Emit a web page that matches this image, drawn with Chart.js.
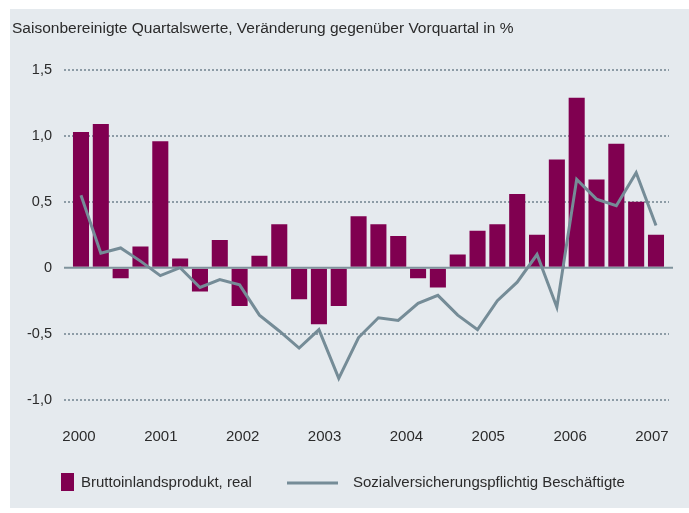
<!DOCTYPE html>
<html lang="de">
<head>
<meta charset="utf-8">
<title>BIP und Beschäftigung</title>
<script src="https://cdn.jsdelivr.net/npm/chart.js@4.4.1/dist/chart.umd.min.js"></script>
<style>
	html, body { margin: 0; padding: 0; background: #fff; }
	#wrap { width: 689px; height: 513px; }
</style>
</head>
<body>
<div id="wrap"><canvas id="chart" width="689" height="513"></canvas></div>
<script>
	'use strict';

	// quarters 2000 Q1 .. 2007 Q2
	var quarters = [
		'2000 Q1', '2000 Q2', '2000 Q3', '2000 Q4',
		'2001 Q1', '2001 Q2', '2001 Q3', '2001 Q4',
		'2002 Q1', '2002 Q2', '2002 Q3', '2002 Q4',
		'2003 Q1', '2003 Q2', '2003 Q3', '2003 Q4',
		'2004 Q1', '2004 Q2', '2004 Q3', '2004 Q4',
		'2005 Q1', '2005 Q2', '2005 Q3', '2005 Q4',
		'2006 Q1', '2006 Q2', '2006 Q3', '2006 Q4',
		'2007 Q1', '2007 Q2'
	];

	var bipReal = [
		1.03, 1.09, -0.08, 0.16,
		0.96, 0.07, -0.18, 0.21,
		-0.29, 0.09, 0.33, -0.24,
		-0.43, -0.29, 0.39, 0.33,
		0.24, -0.08, -0.15, 0.10,
		0.28, 0.33, 0.56, 0.25,
		0.82, 1.29, 0.67, 0.94,
		0.50, 0.25
	];

	var beschaeftigte = [
		0.55, 0.11, 0.15, 0.05,
		-0.06, 0.00, -0.15, -0.09,
		-0.13, -0.36, -0.48, -0.61,
		-0.47, -0.84, -0.53, -0.38,
		-0.40, -0.27, -0.21, -0.36,
		-0.47, -0.25, -0.11, 0.10,
		-0.30, 0.67, 0.52, 0.47,
		0.72, 0.32
	];

	var yearLabels = ['2000', '2001', '2002', '2003', '2004', '2005', '2006', '2007'];
	var yTicks = [1.5, 1.0, 0.5, 0, -0.5, -1.0];

	var seriesNames = ['Bruttoinlandsprodukt, real', 'Sozialversicherungspflichtig Beschäftigte'];
	var title = 'Saisonbereinigte Quartalswerte, Veränderung gegenüber Vorquartal in %';

	var BAR = '#800050';
	var LINE = '#758c97';
	var TEXT = '#2b2b2b';

	function points(values) {
		return values.map(function (v, i) { return { x: i, y: v }; });
	}

	// the year labels in the original sit a little wider apart than the quarters
	var yearStep = 4.128;
	var yearOffset = -0.1;

	Chart.defaults.font.family = "'Liberation Sans', Arial, Helvetica, sans-serif";
	Chart.defaults.font.size = 15;
	Chart.defaults.color = TEXT;

	var panel = {
		id: 'panel',
		beforeDraw: function (chart) {
			var ctx = chart.ctx;
			ctx.save();
			ctx.fillStyle = '#ffffff';
			ctx.fillRect(0, 0, chart.width, chart.height);
			ctx.fillStyle = '#e5eaee';
			ctx.fillRect(10, 9, chart.width - 10, 499);
			ctx.restore();
		}
	};

	var zeroLine = {
		id: 'zeroLine',
		afterDatasetDraw: function (chart, args) {
			if (args.index !== 0) return;
			var y = chart.scales.y.getPixelForValue(0);
			var area = chart.chartArea;
			var ctx = chart.ctx;
			ctx.save();
			ctx.strokeStyle = '#7f939c';
			ctx.lineWidth = 2;
			ctx.beginPath();
			ctx.moveTo(area.left, y);
			ctx.lineTo(area.right + 4, y);
			ctx.stroke();
			ctx.restore();
		}
	};

	var legendRow = {
		id: 'legendRow',
		afterDraw: function (chart) {
			var ctx = chart.ctx;
			var ds = chart.data.datasets;
			var y = 482.5;
			ctx.save();
			ctx.font = Chart.helpers.toFont(Chart.defaults.font).string;
			ctx.textBaseline = 'middle';
			ctx.textAlign = 'left';

			ctx.fillStyle = ds[0].backgroundColor;
			ctx.fillRect(61, 473, 13, 18);
			ctx.fillStyle = TEXT;
			ctx.fillText(ds[0].label, 81, y);

			ctx.strokeStyle = ds[1].borderColor;
			ctx.lineWidth = 3;
			ctx.beginPath();
			ctx.moveTo(287, 483);
			ctx.lineTo(338, 483);
			ctx.stroke();
			ctx.fillText(ds[1].label, 353, y);
			ctx.restore();
		}
	};

	new Chart(document.getElementById('chart'), {
		type: 'bar',
		data: {
			labels: quarters,
			datasets: [{
				type: 'bar',
				label: seriesNames[0],
				data: points(bipReal),
				backgroundColor: BAR,
				categoryPercentage: 1,
				barPercentage: 0.81,
				order: 2
			}, {
				type: 'line',
				label: seriesNames[1],
				data: points(beschaeftigte),
				borderColor: LINE,
				borderWidth: 3,
				pointRadius: 0,
				tension: 0,
				order: 1
			}]
		},
		options: {
			responsive: false,
			animation: false,
			layout: { padding: { left: 12, right: 20, top: 0, bottom: 63.5 } },
			plugins: {
				legend: { display: false },
				tooltip: { enabled: false },
				title: {
					display: true,
					text: title,
					align: 'start',
					color: TEXT,
					font: { size: 15.5, weight: 'normal' },
					padding: { top: 19, bottom: 32.4 }
				}
			},
			scales: {
				x: {
					type: 'linear',
					offset: false,
					min: -0.857,
					max: 29.656,
					grid: { display: false, drawTicks: false },
					border: { display: false },
					afterBuildTicks: function (scale) {
						scale.ticks = yearLabels.map(function (y, i) {
							return { value: i * yearStep + yearOffset };
						});
					},
					afterFit: function (scale) {
						scale.height = 50;
						scale.paddingLeft = 0;
						scale.paddingRight = 0;
					},
					ticks: {
						autoSkip: false,
						maxRotation: 0,
						padding: 28,
						color: TEXT,
						callback: function (v, i) { return yearLabels[i]; }
					}
				},
				y: {
					min: -1,
					max: 1.5,
					afterBuildTicks: function (scale) {
						scale.ticks = yTicks.map(function (v) { return { value: v }; });
					},
					afterFit: function (scale) { scale.width = 52; },
					grid: {
						drawTicks: false,
						lineWidth: 2,
						color: function (c) {
							return c.tick && c.tick.value === 0 ? 'rgba(0,0,0,0)' : '#8d9ca6';
						}
					},
					border: { display: false, dash: [2, 2] },
					ticks: {
						padding: 12,
						color: TEXT,
						font: { size: 14.5 },
						callback: function (v) {
							return v === 0 ? '0' : v.toFixed(1).replace('.', ',');
						}
					}
				}
			}
		},
		plugins: [panel, zeroLine, legendRow]
	});
</script>
</body>
</html>
